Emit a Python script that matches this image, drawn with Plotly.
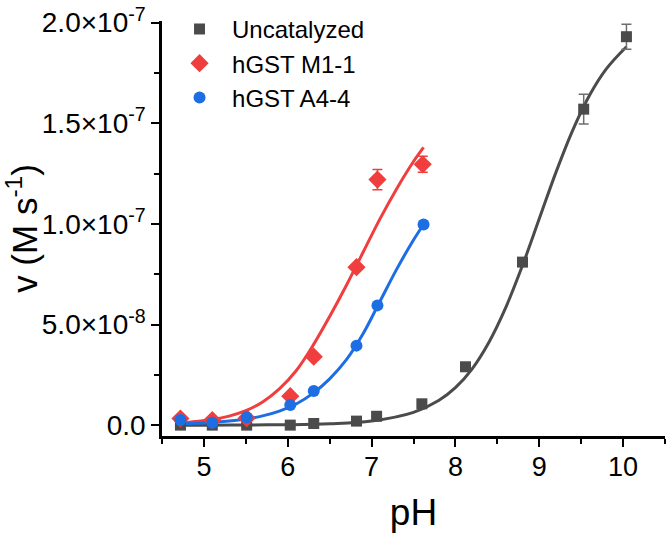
import plotly.graph_objects as go

# ---- data (v in M/s) ----
ph_unc = [4.72, 5.10, 5.51, 6.03, 6.31, 6.82, 7.06, 7.60, 8.12, 8.80, 9.53, 10.04]
v_unc = [0.0, 0.0, 0.0, 0.0, 0.08e-8, 0.2e-8, 0.44e-8, 1.06e-8, 2.9e-8, 8.1e-8, 15.7e-8, 19.3e-8]
err_unc = [None, None, None, None, None, None, None, None, None, None, 0.74e-8, 0.62e-8]

ph_m1 = [4.72, 5.10, 5.51, 6.03, 6.31, 6.82, 7.07, 7.61]
v_m1 = [0.33e-8, 0.25e-8, 0.35e-8, 1.44e-8, 3.4e-8, 7.85e-8, 12.2e-8, 12.96e-8]
err_m1 = [None, None, None, None, None, None, 0.5e-8, 0.4e-8]

ph_a4 = [4.72, 5.10, 5.51, 6.03, 6.31, 6.82, 7.07, 7.62]
v_a4 = [0.25e-8, 0.12e-8, 0.38e-8, 1.0e-8, 1.7e-8, 3.95e-8, 5.95e-8, 9.97e-8]

# fitted curves
fit_unc_x = [4.72, 5.0, 5.5, 6.0, 6.5, 7.0, 7.5, 7.8, 8.0, 8.2, 8.4, 8.6, 8.8, 9.0, 9.2, 9.4, 9.6, 9.8, 10.04]
fit_unc_y = [0.0, 0.0, 0.01e-8, 0.02e-8, 0.065e-8, 0.2e-8, 0.63e-8, 1.22e-8, 1.86e-8, 2.8e-8, 4.12e-8,
             5.84e-8, 7.93e-8, 10.25e-8, 12.57e-8, 14.66e-8, 16.39e-8, 17.7e-8, 18.8e-8]
fit_m1_x = [4.72, 4.9, 5.1, 5.3, 5.5, 5.7, 5.9, 6.1, 6.3, 6.5, 6.7, 6.9, 7.1, 7.3, 7.5, 7.62]
fit_m1_y = [0.11e-8, 0.18e-8, 0.28e-8, 0.45e-8, 0.72e-8, 1.15e-8, 1.8e-8, 2.7e-8, 3.95e-8, 5.4e-8,
            6.95e-8, 8.6e-8, 10.25e-8, 11.75e-8, 13.1e-8, 13.8e-8]
fit_a4_x = [4.72, 4.9, 5.1, 5.3, 5.5, 5.7, 5.9, 6.1, 6.3, 6.5, 6.7, 6.9, 7.1, 7.3, 7.5, 7.62]
fit_a4_y = [0.06e-8, 0.09e-8, 0.13e-8, 0.2e-8, 0.3e-8, 0.46e-8, 0.7e-8, 1.05e-8, 1.58e-8, 2.3e-8,
            3.25e-8, 4.55e-8, 6.15e-8, 7.75e-8, 9.2e-8, 9.97e-8]

y_tickvals = [0, 5e-8, 1e-7, 1.5e-7, 2e-7]
y_ticktext = ["0.0", "5.0×10<sup>-8</sup>", "1.0×10<sup>-7</sup>", "1.5×10<sup>-7</sup>", "2.0×10<sup>-7</sup>"]
x_tickvals = [5, 6, 7, 8, 9, 10]

GRAY = "rgb(75,75,75)"
RED = "rgb(240,62,62)"
BLUE = "rgb(28,110,226)"
FONT = "Liberation Sans, Arial, sans-serif"

fig = go.Figure()

for fx, fy, col in [(fit_unc_x, fit_unc_y, GRAY), (fit_m1_x, fit_m1_y, RED), (fit_a4_x, fit_a4_y, BLUE)]:
    fig.add_trace(go.Scatter(x=fx, y=fy, mode="lines", line=dict(color=col, width=3, shape="spline"),
                             showlegend=False, hoverinfo="skip"))

fig.add_trace(go.Scatter(
    x=ph_unc, y=v_unc, mode="markers", name="Uncatalyzed",
    marker=dict(symbol="square", size=11, color=GRAY),
    error_y=dict(type="data", array=err_unc, color="rgb(110,110,110)", thickness=1.5, width=5)))
fig.add_trace(go.Scatter(
    x=ph_m1, y=v_m1, mode="markers", name="hGST M1-1",
    marker=dict(symbol="diamond", size=14, color=RED),
    error_y=dict(type="data", array=err_m1, color=RED, thickness=1.5, width=5)))
fig.add_trace(go.Scatter(
    x=ph_a4, y=v_a4, mode="markers", name="hGST A4-4",
    marker=dict(symbol="circle", size=12, color=BLUE)))

fig.update_layout(
    width=668, height=537,
    margin=dict(l=162, r=3, t=15, b=101),
    paper_bgcolor="white", plot_bgcolor="white",
    font=dict(family=FONT, color="black", size=25),
    legend=dict(x=0.01, y=1.034, xanchor="left", yanchor="top", font=dict(size=24),
                bgcolor="rgba(0,0,0,0)", itemwidth=55, tracegroupgap=0),
    showlegend=True,
)
fig.update_xaxes(
    range=[4.5, 10.5], tickvals=x_tickvals, showgrid=False, zeroline=False,
    showline=True, linecolor="black", linewidth=2.5, ticks="outside", ticklen=8, tickwidth=2,
    tickcolor="black", tickfont=dict(size=27), ticklabelstandoff=-3,
    minor=dict(dtick=0.5, tick0=4.5, ticks="outside", ticklen=5, tickwidth=2, tickcolor="black", showgrid=False),
    title=dict(text="pH", font=dict(size=37), standoff=18),
)
fig.update_yaxes(
    range=[-0.54e-8, 2.008e-7], tickvals=y_tickvals, ticktext=y_ticktext, showgrid=False, zeroline=False,
    showline=True, linecolor="black", linewidth=2.5, ticks="outside", ticklen=8, tickwidth=2,
    tickcolor="black", tickfont=dict(size=28), ticklabeloverflow="allow",
    minor=dict(dtick=2.5e-8, tick0=0, ticks="outside", ticklen=5, tickwidth=2, tickcolor="black", showgrid=False),
    title=dict(text="v (M s<sup>-1</sup>)", font=dict(size=35), standoff=14),
)

fig.write_html("out.html")
